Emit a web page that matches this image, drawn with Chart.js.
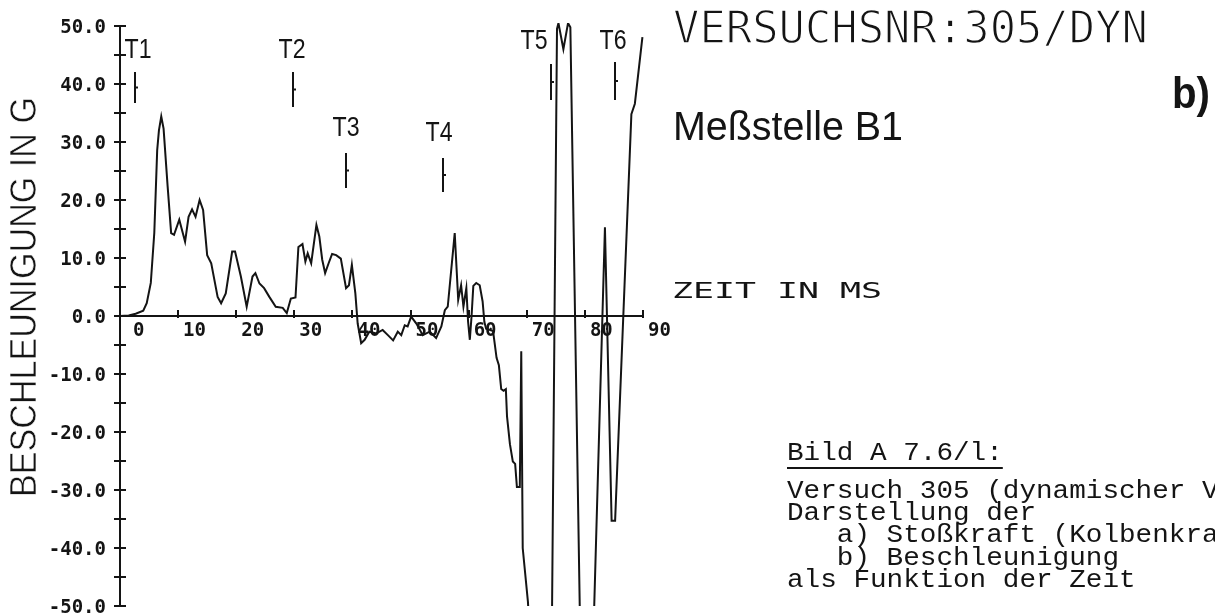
<!DOCTYPE html>
<html>
<head>
<meta charset="utf-8">
<script src="https://cdn.jsdelivr.net/npm/chart.js@4.4.0/dist/chart.umd.min.js"></script>
<style>
  html, body { margin: 0; padding: 0; background: #fff; overflow: hidden; }
  canvas { display: block; }
</style>
</head>
<body>
<canvas id="accelChart" width="1215" height="616"></canvas>
<script>
// measured trace, Messstelle B1 (time in ms, acceleration in g)
const timeMs = [
  0.0, 1.5, 2.7, 4.0, 4.6, 5.3, 5.9, 6.4, 6.7, 7.1, 7.5, 8.2, 8.8, 9.3, 10.2,
  11.2, 11.8, 12.4, 13.0, 13.7, 14.3, 15.0, 15.7, 16.8, 17.4, 18.2, 19.3, 19.8,
  20.8, 21.8, 22.8, 23.3, 24.0, 24.8, 25.7, 26.8, 28.0, 28.7, 29.4, 30.2, 30.7,
  31.4, 31.9, 32.3, 32.9, 33.8, 34.3, 34.8, 35.3, 35.9, 36.5, 37.2, 38.0, 38.9,
  39.4, 39.9, 40.5, 40.9, 41.5, 42.1, 42.9, 44.1, 45.2, 46.1, 47.0, 47.8, 48.4,
  49.0, 49.5, 50.1, 51.0, 52.1, 53.3, 54.4, 55.3, 55.9, 56.4, 57.6, 58.2, 58.7,
  59.1, 59.6, 59.9, 60.2, 60.5, 60.8, 61.3, 61.9, 62.4, 62.7, 63.0, 63.6, 64.2,
  64.8, 65.2, 65.6, 66.0, 66.4, 66.6, 67.1, 67.6, 68.0, 68.3, 68.8, 69.05, 69.3,
  70.2, 70.8, 74.1, 75.2, 75.45, 76.3, 77.1, 77.5, 79.6, 80.9, 83.45, 84.6,
  85.2, 88.0, 88.6, 89.9
];
const accelG = [
  0.0, 0.1, 0.4, 0.9, 2.2, 5.7, 14.3, 28.6, 32.0, 34.4, 32.3, 22.3, 14.3, 14.0, 16.6,
  12.8, 17.1, 18.4, 17.1, 20.0, 18.3, 10.5, 9.1, 3.3, 2.2, 3.9, 11.1, 11.1,
  6.8, 1.6, 6.8, 7.4, 5.6, 4.8, 3.3, 1.6, 1.4, 0.5, 3.0, 3.2, 11.9,
  12.4, 9.4, 10.8, 9.1, 15.7, 13.7, 9.7, 7.4, 9.1, 10.7, 10.5, 9.9, 4.8,
  5.3, 8.8, 3.9, -1.3, -4.7, -4.1, -2.7, -3.0, -2.4, -3.3, -4.2, -2.7, -3.3,
  -1.6, -1.8, -0.1, -1.3, -3.3, -2.7, -3.8, -1.8, 1.0, 1.6, 14.3, 2.8, 5.3,
  1.6, 4.8, -1.0, -4.1, 0.0, 5.2, 5.7, 5.3, 2.5, -1.0, -2.2, -2.4, -2.6,
  -7.2, -8.5, -12.6, -12.9, -12.6, -17.3, -22.1, -25.1, -25.5, -29.5, -29.5, -6.1, -40.0,
  -49.3, -60.0, -80.0, 49.5, 50.5, 46.0, 50.5, 49.8, -80.0, -75.0, 15.3, -35.3,
  -35.3, 34.8, 36.6, 48.1
];

const xTicks = [0, 10, 20, 30, 40, 50, 60, 70, 80, 90];
const yTicks = [50, 40, 30, 20, 10, 0, -10, -20, -30, -40, -50];
const yMinorTicks = [45, 35, 25, 15, 5, -5, -15, -25, -35, -45];

const markerLabels = ['T1', 'T2', 'T3', 'T4', 'T5', 'T6'];
const markerTimes = [2.6, 29.8, 38.9, 55.6, 74.1, 85.2];

const captionLines = [
  'Bild A 7.6/l:',
  'Versuch 305 (dynamischer V',
  'Darstellung der',
  '   a) Stoßkraft (Kolbenkra',
  '   b) Beschleunigung',
  'als Funktion der Zeit'
];

// layout of the marker annotations (pixels)
const markerLayout = [
  { dx: 3, labelBase: 58, top: 72, bottom: 103 },
  { dx: -1, labelBase: 58, top: 72, bottom: 107 },
  { dx: 0, labelBase: 136, top: 153, bottom: 188 },
  { dx: -4, labelBase: 141, top: 158, bottom: 192 },
  { dx: -17, labelBase: 49, top: 64, bottom: 100 },
  { dx: -2, labelBase: 49, top: 62, bottom: 100 }
];
const captionBase = [460, 498, 520, 542, 565, 587];

const ink = '#141414';

const putText = (ctx, str, x, y, font, width, align, thin) => {
  ctx.font = font;
  const w = ctx.measureText(str).width;
  const k = width ? width / w : 1;
  ctx.save();
  ctx.translate(x, y);
  ctx.scale(k, 1);
  ctx.textAlign = align || 'left';
  ctx.fillText(str, 0, 0);
  if (thin) {
    // erode the glyph edges for the thin plotter pen
    ctx.strokeStyle = '#fff';
    ctx.lineWidth = thin;
    ctx.strokeText(str, 0, 0);
  }
  ctx.restore();
};

const plotterFrame = {
  id: 'plotterFrame',
  beforeDatasetsDraw(chart) {
    const { ctx, scales: { x, y } } = chart;
    const x0 = x.getPixelForValue(0);
    const y0 = y.getPixelForValue(0);
    ctx.save();
    ctx.strokeStyle = ink;
    ctx.fillStyle = ink;
    ctx.lineWidth = 2;

    // axes
    ctx.beginPath();
    ctx.moveTo(x0, y.getPixelForValue(50));
    ctx.lineTo(x0, y.getPixelForValue(-50));
    ctx.moveTo(x0, y0);
    ctx.lineTo(x.getPixelForValue(90), y0);
    ctx.stroke();

    // y ticks, cross the axis
    ctx.beginPath();
    [...yTicks, ...yMinorTicks].forEach(v => {
      const py = Math.round(y.getPixelForValue(v));
      ctx.moveTo(x0 - 6, py);
      ctx.lineTo(x0 + 6, py);
    });
    // x ticks
    xTicks.slice(1).forEach(v => {
      const px = Math.round(x.getPixelForValue(v));
      ctx.moveTo(px, y0 - 6);
      ctx.lineTo(px, y0 + 2);
    });
    ctx.stroke();

    ctx.textBaseline = 'alphabetic';
    const tickFont = 'bold 19px "DejaVu Sans Mono"';
    yTicks.forEach(v => {
      putText(ctx, v.toFixed(1), x0 - 14, y.getPixelForValue(v) + 7, tickFont, 0, 'right');
    });
    xTicks.forEach(v => {
      const px = x.getPixelForValue(v) + (v === 0 ? 13 : 5);
      putText(ctx, String(v), px, y0 + 20, tickFont, 0, 'left');
    });

    // T markers
    markerLabels.forEach((name, i) => {
      const m = markerLayout[i];
      const px = Math.round(x.getPixelForValue(markerTimes[i]));
      ctx.beginPath();
      ctx.moveTo(px, m.top);
      ctx.lineTo(px, m.bottom);
      ctx.moveTo(px, (m.top + m.bottom) / 2);
      ctx.lineTo(px + 3, (m.top + m.bottom) / 2);
      ctx.stroke();
      putText(ctx, name, px + m.dx, m.labelBase, '28px "Liberation Sans"', 27, 'center');
    });
    ctx.restore();
  },
  afterDraw(chart) {
    const { ctx } = chart;
    ctx.save();
    ctx.fillStyle = ink;
    ctx.textBaseline = 'alphabetic';

    // y axis title
    ctx.save();
    ctx.translate(36, 297);
    ctx.rotate(-Math.PI / 2);
    putText(ctx, 'BESCHLEUNIGUNG IN G', 0, 0, '37px "Liberation Sans"', 400, 'center', 0.6);
    ctx.restore();

    putText(ctx, 'VERSUCHSNR:305/DYN', 673, 43, '45px "DejaVu Sans Mono"', 475, 'left', 1.4);
    putText(ctx, 'Meßstelle B1', 673, 140, '41px "Liberation Sans"', 230);
    putText(ctx, 'b)', 1172, 108, 'bold 44px "Liberation Sans"', 38);
    putText(ctx, 'ZEIT IN MS', 672, 298, '21px "DejaVu Sans Mono"', 210);

    // caption block
    ctx.font = '26px "Liberation Mono"';
    const adv = ctx.measureText('M').width;
    const k = 16.6 / adv;
    captionLines.forEach((line, i) => {
      ctx.save();
      ctx.translate(787, captionBase[i]);
      ctx.scale(k, 1);
      ctx.fillText(line, 0, 0);
      ctx.restore();
    });
    ctx.fillRect(787, 467, 13 * 16.6, 2);
    ctx.restore();
  }
};

const points = timeMs.map((t, i) => ({ x: t, y: accelG[i] }));

new Chart(document.getElementById('accelChart'), {
  type: 'line',
  data: {
    datasets: [{
      data: points,
      borderColor: ink,
      borderWidth: 2,
      pointRadius: 0,
      tension: 0,
      fill: false,
      clip: { left: 0, right: 2, top: 3, bottom: 0 }
    }]
  },
  options: {
    responsive: false,
    animation: false,
    devicePixelRatio: 1,
    layout: { padding: { left: 120, right: 572, top: 26, bottom: 10 } },
    scales: {
      x: { type: 'linear', min: 0, max: 90, display: false },
      y: { type: 'linear', min: -50, max: 50, display: false }
    },
    plugins: { legend: { display: false }, tooltip: { enabled: false } }
  },
  plugins: [plotterFrame]
});
</script>
</body>
</html>
